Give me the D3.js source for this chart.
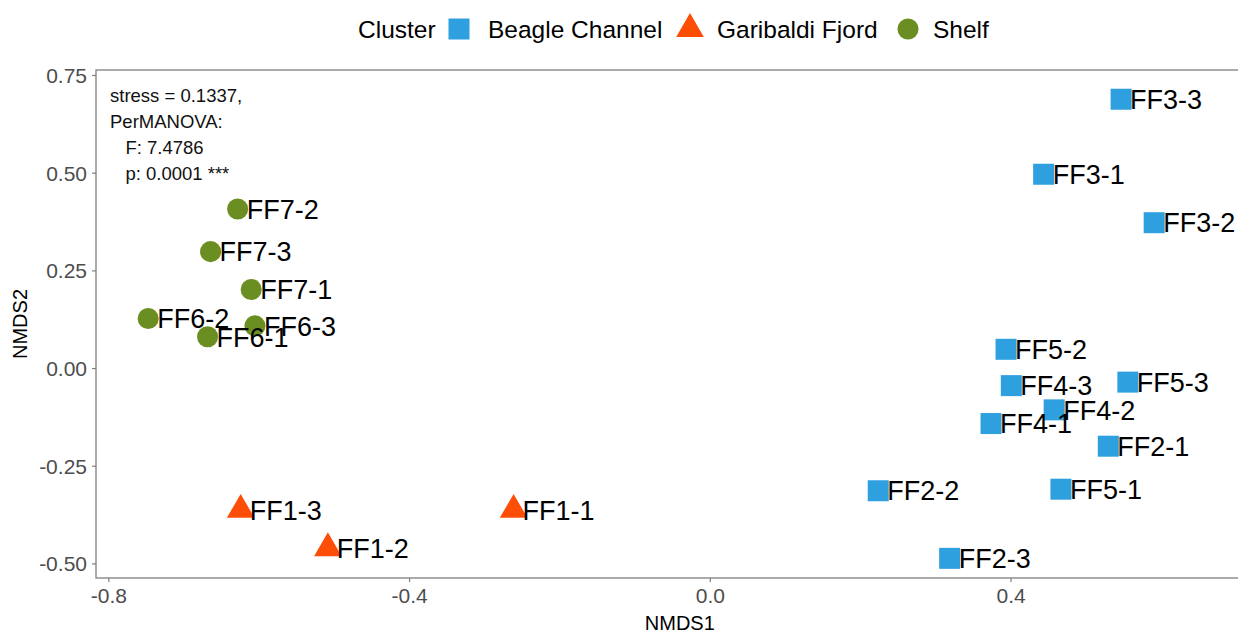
<!DOCTYPE html>
<meta charset="utf-8">
<script src="https://d3js.org/d3.v7.min.js"></script>
<style>
  body { margin: 0; background: #fff; }
  text { font-family: "Liberation Sans", Arial, sans-serif; }
</style>
<div id="my_dataviz"></div>
<script>

// data
var sampleIds = ["FF1-1", "FF1-2", "FF1-3",
                 "FF2-1", "FF2-2", "FF2-3",
                 "FF3-1", "FF3-2", "FF3-3",
                 "FF4-1", "FF4-2", "FF4-3",
                 "FF5-1", "FF5-2", "FF5-3",
                 "FF6-1", "FF6-2", "FF6-3",
                 "FF7-1", "FF7-2", "FF7-3"];
var clusters = ["Garibaldi Fjord", "Garibaldi Fjord", "Garibaldi Fjord",
                "Beagle Channel", "Beagle Channel", "Beagle Channel",
                "Beagle Channel", "Beagle Channel", "Beagle Channel",
                "Beagle Channel", "Beagle Channel", "Beagle Channel",
                "Beagle Channel", "Beagle Channel", "Beagle Channel",
                "Shelf", "Shelf", "Shelf",
                "Shelf", "Shelf", "Shelf"];
var nmds1 = [-0.261, -0.508, -0.624,
              0.530,  0.224,  0.319,
              0.444,  0.591,  0.547,
              0.374,  0.458,  0.401,
              0.467,  0.394,  0.556,
             -0.668, -0.747, -0.605,
             -0.610, -0.628, -0.664];
var nmds2 = [-0.363, -0.461, -0.363,
             -0.200, -0.314, -0.487,
              0.496,  0.372,  0.688,
             -0.142, -0.107, -0.045,
             -0.310,  0.048, -0.036,
              0.080,  0.127,  0.108,
              0.201,  0.407,  0.298];

var clusterNames = ["Beagle Channel", "Garibaldi Fjord", "Shelf"];
var clusterColors = ["#2E9FDF", "#FC4E07", "#6B8E23"];
var clusterShapes = [d3.symbolSquare, d3.symbolTriangle, d3.symbolCircle];
var clusterSizes = [441, 330, 350];

var xTicks = [-0.8, -0.4, 0.0, 0.4];
var yTicks = [-0.50, -0.25, 0.00, 0.25, 0.50, 0.75];

var annotation = ["stress = 0.1337,", "PerMANOVA:", "   F: 7.4786", "   p: 0.0001 ***"];

// dimensions
var W = 1238, H = 635;
var margin = {top: 70, right: 0, bottom: 57, left: 96},
    width = W - margin.left - margin.right,
    height = H - margin.top - margin.bottom;

var svg = d3.select("#my_dataviz")
  .append("svg")
    .attr("width", W)
    .attr("height", H);

var g = svg.append("g")
    .attr("transform", "translate(" + margin.left + "," + margin.top + ")");

var x = d3.scaleLinear().domain([-0.8164, 0.7025]).range([0, width]);
var y = d3.scaleLinear().domain([-0.5373, 0.7628]).range([height, 0]);

var color = d3.scaleOrdinal().domain(clusterNames).range(clusterColors);
var shapeIdx = function(c) { return clusterNames.indexOf(c); };

// R-style labels with a plain hyphen for negatives
var fmt = function(p) {
  return function(d) { return d3.format("." + p + "f")(d).replace("\u2212", "-"); };
};

// panel border
g.append("rect")
  .attr("x", 0).attr("y", 0)
  .attr("width", width + 2).attr("height", height)
  .attr("fill", "none")
  .attr("stroke", "#7f7f7f")
  .attr("stroke-width", 1.3);

// axes
var xAxis = g.append("g")
  .attr("transform", "translate(0," + height + ")")
  .call(d3.axisBottom(x).tickValues(xTicks).tickSize(4).tickPadding(6).tickFormat(fmt(1)));
var yAxis = g.append("g")
  .call(d3.axisLeft(y).tickValues(yTicks).tickSize(4).tickPadding(5).tickFormat(fmt(2)));

[xAxis, yAxis].forEach(function(a) {
  a.select(".domain").remove();
  a.selectAll(".tick line").attr("stroke", "#7f7f7f").attr("stroke-width", 1.2);
  a.selectAll(".tick text")
    .attr("fill", "#4d4d4d")
    .style("font-size", "21px")
    .style("font-family", "'Liberation Sans', Arial, sans-serif");
});
xAxis.selectAll(".tick text").attr("dy", "0.72em");
yAxis.selectAll(".tick text").attr("dy", "0.36em");

// axis titles
svg.append("text")
  .attr("x", margin.left + x(0) - 30)
  .attr("y", 630)
  .attr("text-anchor", "middle")
  .style("font-size", "20px")
  .text("NMDS1");
svg.append("text")
  .attr("transform", "translate(27," + (margin.top + height / 2) + ") rotate(-90)")
  .attr("text-anchor", "middle")
  .style("font-size", "20px")
  .text("NMDS2");

// annotation
var ann = g.append("text")
  .attr("x", 14)
  .attr("y", 32)
  .style("font-size", "18.5px")
  .attr("fill", "#111");
ann.selectAll("tspan")
  .data(annotation)
  .enter()
  .append("tspan")
    .attr("x", 14)
    .attr("dy", function(d, i) { return i === 0 ? 0 : 26; })
    .attr("xml:space", "preserve")
    .style("white-space", "pre")
    .text(function(d) { return d; });

// points
var idx = d3.range(sampleIds.length);
g.selectAll("path.pt")
  .data(idx)
  .enter()
  .append("path")
    .attr("class", "pt")
    .attr("transform", function(i) { return "translate(" + x(nmds1[i]) + "," + y(nmds2[i]) + ")"; })
    .attr("d", function(i) {
      var k = shapeIdx(clusters[i]);
      return d3.symbol().type(clusterShapes[k]).size(clusterSizes[k])();
    })
    .attr("fill", function(i) { return color(clusters[i]); });

// labels
g.selectAll("text.lab")
  .data(idx)
  .enter()
  .append("text")
    .attr("class", "lab")
    .attr("x", function(i) { return x(nmds1[i]) + 9; })
    .attr("y", function(i) { return y(nmds2[i]); })
    .attr("dy", "0.36em")
    .style("font-size", "27px")
    .attr("fill", "#000")
    .text(function(i) { return sampleIds[i]; });

// legend
var legend = svg.append("g");
legend.append("text")
  .attr("x", 358).attr("y", 29).attr("dy", "0.36em")
  .style("font-size", "24.5px")
  .text("Cluster");
var legendKeys = [459, 690, 908];
var legendTexts = [488, 717, 933];
clusterNames.forEach(function(c, k) {
  legend.append("path")
    .attr("transform", "translate(" + legendKeys[k] + ",29)")
    .attr("d", d3.symbol().type(clusterShapes[k]).size(clusterSizes[k])())
    .attr("fill", clusterColors[k]);
  legend.append("text")
    .attr("x", legendTexts[k]).attr("y", 29).attr("dy", "0.36em")
    .style("font-size", "24.5px")
    .text(c);
});

</script>
